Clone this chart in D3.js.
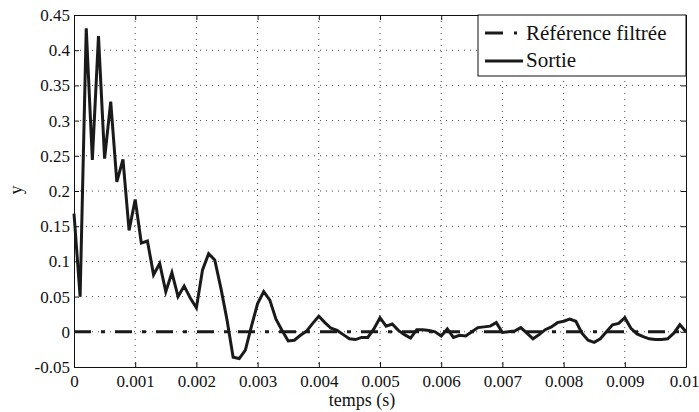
<!DOCTYPE html>
<html><head><meta charset="utf-8">
<script src="https://cdn.jsdelivr.net/npm/d3@7"></script>
<style>body{margin:0;background:#fff}svg{display:block}</style>
</head><body><svg id="c" width="699" height="412"></svg>
<script>
const xTicks = [0,0.001,0.002,0.003,0.004,0.005,0.006,0.007,0.008,0.009,0.01];
const xTickLabels = ["0","0.001","0.002","0.003","0.004","0.005","0.006","0.007","0.008","0.009","0.01"];
const yTicks = [-0.05,0,0.05,0.1,0.15,0.2,0.25,0.3,0.35,0.4,0.45];
const yTickLabels = ["-0.05","0","0.05","0.1","0.15","0.2","0.25","0.3","0.35","0.4","0.45"];
const dt = 0.0001;
const sortie = [0.168,0.05,0.431,0.244,0.42,0.246,0.327,0.213,0.245,0.144,
0.188,0.126,0.129,0.081,0.097,0.057,0.084,0.05,0.065,0.048,
0.034,0.088,0.111,0.102,0.062,0.017,-0.036,-0.038,-0.026,0.008,
0.04,0.057,0.045,0.018,0.002,-0.013,-0.012,-0.005,0.001,0.012,
0.022,0.013,0.005,0.002,-0.004,-0.01,-0.011,-0.008,-0.008,0.004,
0.02,0.008,0.011,0.002,-0.004,-0.009,0.003,0.003,0.002,0.0,
-0.006,0.004,-0.008,-0.005,-0.006,0.0,0.006,0.007,0.008,0.013,
-0.001,0.0,0.001,0.006,-0.002,-0.01,-0.004,0.003,0.007,0.013,
0.015,0.018,0.015,-0.002,-0.012,-0.015,-0.01,0.0,0.01,0.012,
0.02,0.005,-0.003,-0.007,-0.01,-0.011,-0.011,-0.01,-0.002,0.01,0.0];
const reference = [0,0];
const refTimes = [0,0.01];
const legendLabels = ["Référence filtrée","Sortie"];

const FONT = "Liberation Serif";
const svg = d3.select("#c");
const L=74,R=686,T=15,B=367;
const x = d3.scaleLinear().domain([0,0.01]).range([L,R]);
const y = d3.scaleLinear().domain([-0.05,0.45]).range([B,T]);

const g = svg.append("g");
g.selectAll(".gx").data(xTicks.slice(1,-1)).join("line")
 .attr("x1",d=>x(d)).attr("x2",d=>x(d)).attr("y1",T).attr("y2",B)
 .attr("stroke","#444").attr("stroke-width",1).attr("stroke-dasharray","1,5");
g.selectAll(".gy").data(yTicks.slice(1,-1)).join("line")
 .attr("y1",d=>y(d)).attr("y2",d=>y(d)).attr("x1",L).attr("x2",R)
 .attr("stroke","#444").attr("stroke-width",1).attr("stroke-dasharray","1,5");

const fmtX = (d,i)=>xTickLabels[i];
const fmtY = (d,i)=>yTickLabels[i];
const ax = svg.append("g").attr("transform",`translate(0,${B})`)
 .call(d3.axisBottom(x).tickValues(xTicks).tickFormat(fmtX).tickSizeInner(-5).tickSizeOuter(0).tickPadding(8));
const ay = svg.append("g").attr("transform",`translate(${L},0)`)
 .call(d3.axisLeft(y).tickValues(yTicks).tickFormat(fmtY).tickSizeInner(-5).tickSizeOuter(0).tickPadding(4));
const at = svg.append("g").attr("transform",`translate(0,${T})`)
 .call(d3.axisTop(x).tickValues(xTicks).tickFormat("").tickSizeInner(-5).tickSizeOuter(0));
const ar = svg.append("g").attr("transform",`translate(${R},0)`)
 .call(d3.axisRight(y).tickValues(yTicks).tickFormat("").tickSizeInner(-5).tickSizeOuter(0));
[ax,ay,at,ar].forEach(a=>{
 a.selectAll("path").attr("stroke","#111");a.selectAll("line").attr("stroke","#111");
 a.selectAll("text").attr("fill","#111").attr("font-family",FONT).attr("font-size",17);});
ax.selectAll(".tick text").filter((d,i)=>i===xTicks.length-1).attr("dx",-2);

const lineRef = d3.line().x((d,i)=>x(refTimes[i])).y(d=>y(d));
svg.append("path").datum(reference).attr("d",lineRef).attr("fill","none")
 .attr("stroke","#1a1a1a").attr("stroke-width",3).attr("stroke-dasharray","17,10,4,10");
const lineS = d3.line().x((d,i)=>x(i*dt)).y(d=>y(d));
svg.append("path").datum(sortie).attr("d",lineS).attr("fill","none")
 .attr("stroke","#1a1a1a").attr("stroke-width",3).attr("stroke-linejoin","miter");

svg.append("text").attr("x",362).attr("y",406).attr("text-anchor","middle").attr("fill","#111").attr("font-family",FONT).attr("font-size",18).text("temps (s)");
svg.append("text").attr("transform","translate(22,190) rotate(-90)").attr("text-anchor","middle").attr("fill","#111").attr("font-family",FONT).attr("font-size",18).text("y");

const lg = svg.append("g");
lg.append("rect").attr("x",478).attr("y",T).attr("width",R-478).attr("height",61).attr("fill","#fff").attr("stroke","#111").attr("stroke-width",1);
lg.append("line").attr("x1",485).attr("x2",523).attr("y1",33).attr("y2",33).attr("stroke","#1a1a1a").attr("stroke-width",3).attr("stroke-dasharray","18,11,3,100");
lg.append("line").attr("x1",485).attr("x2",523).attr("y1",61).attr("y2",61).attr("stroke","#1a1a1a").attr("stroke-width",3);
lg.selectAll("text.l").data(legendLabels).join("text").attr("x",526).attr("y",(d,i)=>40+i*27).attr("fill","#111").attr("font-family",FONT).attr("font-size",21).text(d=>d);
</script></body></html>
